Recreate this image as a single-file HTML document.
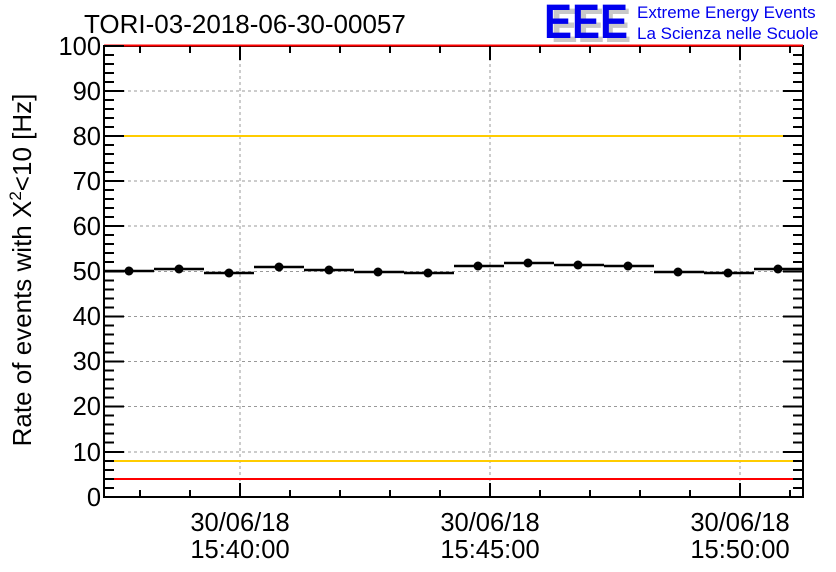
<!DOCTYPE html>
<html><head><meta charset="utf-8"><style>
html,body{margin:0;padding:0;background:#fff;}
svg{display:block;font-family:"Liberation Sans",sans-serif;}
</style></head><body>
<svg width="836" height="572" viewBox="0 0 836 572" xmlns="http://www.w3.org/2000/svg">
<rect width="836" height="572" fill="#fff"/>
<g stroke="#999" stroke-width="1" stroke-dasharray="3,3" fill="none">
<line x1="104" y1="91" x2="803" y2="91"/><line x1="104" y1="136" x2="803" y2="136"/>
<line x1="104" y1="181" x2="803" y2="181"/><line x1="104" y1="226" x2="803" y2="226"/>
<line x1="104" y1="271.5" x2="803" y2="271.5"/><line x1="104" y1="316.5" x2="803" y2="316.5"/>
<line x1="104" y1="361.5" x2="803" y2="361.5"/><line x1="104" y1="406.5" x2="803" y2="406.5"/>
<line x1="104" y1="452" x2="803" y2="452"/>
<line x1="240" y1="46" x2="240" y2="497"/><line x1="490" y1="46" x2="490" y2="497"/><line x1="740" y1="46" x2="740" y2="497"/>
</g>
<line x1="104" y1="136" x2="803" y2="136" stroke="#ffcc00" stroke-width="2"/>
<line x1="104" y1="461" x2="803" y2="461" stroke="#ffcc00" stroke-width="2"/>
<line x1="104" y1="479" x2="803" y2="479" stroke="#ff0000" stroke-width="2"/>
<rect x="104" y="46" width="699" height="451" fill="none" stroke="#000" stroke-width="2"/>
<line x1="104" y1="45.5" x2="803" y2="45.5" stroke="#ff0000" stroke-width="2"/>
<g stroke="#000" stroke-width="2" id="ticks">
<path d="M104 46h20M104 91h20M104 136h20M104 181h20M104 226h20M104 271.5h20M104 316.5h20M104 361.5h20M104 406.5h20M104 452h20M104 497h20
M783 91h20M783 136h20M783 181h20M783 226h20M783 271.5h20M783 316.5h20M783 361.5h20M783 406.5h20M783 452h20"/>
<path d="M104 55h10M104 64h10M104 73h10M104 82h10M104 100h10M104 109h10M104 118h10M104 127h10M104 145h10M104 154h10M104 163h10M104 172h10M104 190h10M104 199h10M104 208h10M104 217h10M104 235h10M104 244h10M104 253h10M104 262h10M104 280.5h10M104 289.5h10M104 298.5h10M104 307.5h10M104 325.5h10M104 334.5h10M104 343.5h10M104 352.5h10M104 370.5h10M104 379.5h10M104 388.5h10M104 397.5h10M104 415.5h10M104 424.5h10M104 433.5h10M104 442.5h10M104 461h10M104 470h10M104 479h10M104 488h10
M793 55h10M793 64h10M793 73h10M793 82h10M793 100h10M793 109h10M793 118h10M793 127h10M793 145h10M793 154h10M793 163h10M793 172h10M793 190h10M793 199h10M793 208h10M793 217h10M793 235h10M793 244h10M793 253h10M793 262h10M793 280.5h10M793 289.5h10M793 298.5h10M793 307.5h10M793 325.5h10M793 334.5h10M793 343.5h10M793 352.5h10M793 370.5h10M793 379.5h10M793 388.5h10M793 397.5h10M793 415.5h10M793 424.5h10M793 433.5h10M793 442.5h10M793 461h10M793 470h10M793 479h10M793 488h10"/>
<path d="M140 497v-7M190 497v-7M240 497v-14M290 497v-7M340 497v-7M390 497v-7M440 497v-7M490 497v-14M540 497v-7M590 497v-7M640 497v-7M690 497v-7M740 497v-14M790 497v-7
M140 46v7M190 46v7M240 46v14M290 46v7M340 46v7M390 46v7M440 46v7M490 46v14M540 46v7M590 46v7M640 46v7M690 46v7M740 46v14M790 46v7"/>
</g>
<g stroke="#000" stroke-width="2.5">
<path d="M104 271h50M154 269h50M204 273h50M254 267h50M304 270h50M354 272h50M404 273h50M454 266h50M504 263h50M554 265h50M604 266h50M654 272h50M704 273h50M754 269h49"/>
</g>
<g fill="#000">
<circle cx="129" cy="271" r="4.5"/><circle cx="179" cy="269" r="4.5"/><circle cx="229" cy="273" r="4.5"/><circle cx="279" cy="267" r="4.5"/><circle cx="329" cy="270" r="4.5"/><circle cx="378" cy="272" r="4.5"/><circle cx="428" cy="273" r="4.5"/><circle cx="478" cy="266" r="4.5"/><circle cx="528" cy="263" r="4.5"/><circle cx="578" cy="265" r="4.5"/><circle cx="628" cy="266" r="4.5"/><circle cx="678" cy="272" r="4.5"/><circle cx="728" cy="273" r="4.5"/><circle cx="778" cy="269" r="4.5"/>
</g>
<g font-size="25.5" fill="#000" text-anchor="end">
<text x="101" y="55">100</text><text x="101" y="100">90</text><text x="101" y="145">80</text><text x="101" y="190">70</text><text x="101" y="235">60</text><text x="101" y="280">50</text><text x="101" y="325">40</text><text x="101" y="370">30</text><text x="101" y="415">20</text><text x="101" y="461">10</text><text x="101" y="506">0</text>
</g>
<g font-size="25.5" fill="#000" text-anchor="middle">
<text x="240" y="531">30/06/18</text><text x="240" y="558">15:40:00</text>
<text x="490" y="531">30/06/18</text><text x="490" y="558">15:45:00</text>
<text x="740" y="531">30/06/18</text><text x="740" y="558">15:50:00</text>
</g>
<text x="84" y="33" font-size="26" fill="#000">TORI-03-2018-06-30-00057</text>
<text transform="translate(31,270) rotate(-90)" font-size="26" fill="#000" text-anchor="middle">Rate of events with X<tspan dy="-10" font-size="17">2</tspan><tspan dy="10">&lt;10 [Hz]</tspan></text>
<g font-size="48" font-weight="bold">
<text x="551" y="42" fill="#c8c8c8" textLength="80" lengthAdjust="spacingAndGlyphs">EEE</text>
<text x="544" y="38" fill="#0000ee" textLength="84" lengthAdjust="spacingAndGlyphs">EEE</text>
</g>
<text x="637" y="18" font-size="17" fill="#0000ee">Extreme Energy Events</text>
<text x="637" y="39" font-size="17" fill="#0000ee">La Scienza nelle Scuole</text>
</svg>
</body></html>
